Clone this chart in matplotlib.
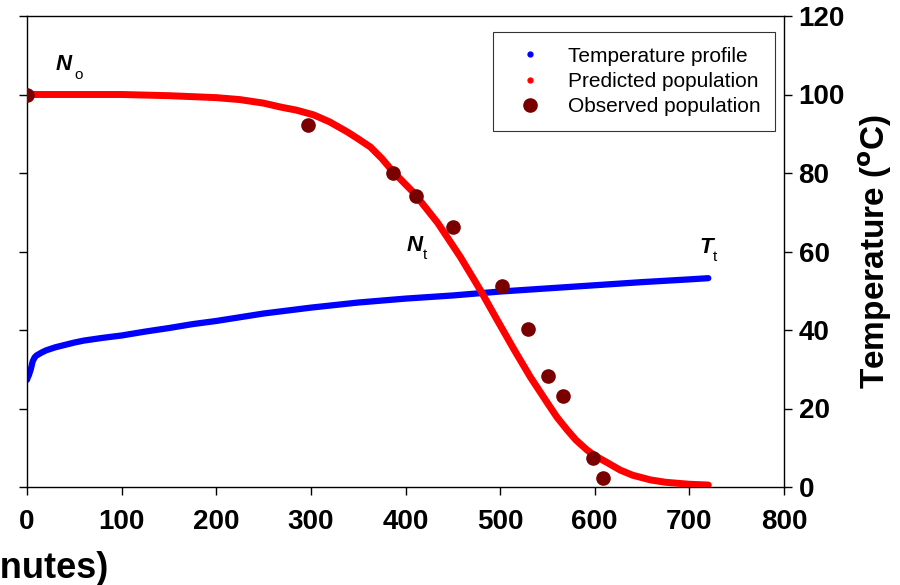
import matplotlib
matplotlib.use("Agg")
import matplotlib.pyplot as plt
from matplotlib.lines import Line2D

plt.rcParams["font.family"] = ["Liberation Sans", "DejaVu Sans"]

# ---- Data ----
time_temp = [0, 1, 2, 4, 6, 8, 10, 15, 20, 30, 40, 50, 60, 80, 100, 125, 150,
             175, 200, 250, 300, 350, 400, 450, 500, 550, 600, 650, 700, 720]
temp = [27.3, 28.0, 28.5, 30.0, 32.0, 33.0, 33.5, 34.2, 34.8, 35.6, 36.2, 36.8,
        37.3, 38.0, 38.6, 39.6, 40.5, 41.5, 42.3, 44.2, 45.7, 47.0, 48.0, 48.8,
        49.8, 50.6, 51.4, 52.2, 52.9, 53.2]

time_pred = [0, 50, 100, 150, 200, 225, 250, 268, 285, 303, 320, 339, 350, 363,
             375, 387, 409, 434, 458, 479, 497, 515, 532, 550, 560, 571, 580,
             592, 600, 614, 627, 640, 659, 675, 700, 720]
pred = [100, 100, 100, 99.7, 99.2, 98.7, 97.8, 96.8, 96.0, 94.8, 93.0, 90.4,
        88.7, 86.6, 83.7, 80.3, 74.9, 67.3, 58.6, 50.2, 42.5, 34.9, 28.0, 21.4,
        17.8, 14.5, 12.0, 9.4, 8.0, 6.1, 4.3, 3.0, 1.8, 1.2, 0.7, 0.5]

time_obs = [0, 297, 387, 411, 450, 502, 529, 551, 566, 598, 609]
obs = [100, 92.2, 80.0, 74.1, 66.2, 51.2, 40.3, 28.3, 23.2, 7.4, 2.3]

x_ticks = [0, 100, 200, 300, 400, 500, 600, 700, 800]
y_ticks = [0, 20, 40, 60, 80, 100, 120]

# ---- Figure ----
fig = plt.figure(figsize=(9, 5.85), dpi=100)
ax = fig.add_axes([27 / 900, 1 - 487 / 585, (784 - 27) / 900, (487 - 16) / 585])

ax.plot(time_temp, temp, color="blue", lw=4.5, solid_capstyle="round", zorder=2)
ax.plot(time_pred, pred, color="red", lw=5, solid_capstyle="round", zorder=3)
ax.plot(time_obs, obs, ls="none", marker="o", ms=9.5, color="#7a0000", zorder=4)

ax.set_xlim(0, 800)
ax.set_ylim(0, 120)
ax.set_xticks(x_ticks)
ax.set_yticks(y_ticks)

for sp in ax.spines.values():
    sp.set_linewidth(1.0)

ax.tick_params(axis="both", direction="out", length=6, width=1.0,
               labelsize=20)
ax.tick_params(axis="x", pad=10)
ax.tick_params(axis="y", left=True, right=True, labelleft=False,
               labelright=True, pad=4.5)
for lbl in ax.get_xticklabels() + ax.get_yticklabels():
    lbl.set_fontweight("bold")

ax.yaxis.set_label_position("right")
ax.set_ylabel(r"Temperature ($\mathbf{^{o}}$C)", fontsize=24,
              fontweight="bold", labelpad=8)

# x label is mostly off the left edge of the canvas, as in the reference
fig.text(108 / 900, 1 - 578 / 585, "Time (minutes)", ha="right",
         va="baseline", fontsize=26, fontweight="bold")

# N / T annotations
def label(x, y, main, sub, sx, sy):
    ax.text(x, y, main, fontsize=16, fontweight="bold", style="italic",
            ha="center", va="center")
    ax.text(sx, sy, sub, fontsize=11, ha="center", va="center")

label(39, 107.6, "N", "o", 55, 105.0)
label(410, 61.5, "N", "t", 421, 59.2)
label(718, 61.1, "T", "t", 727, 58.6)

handles = [
    Line2D([], [], ls="none", marker="o", ms=3.5, color="blue"),
    Line2D([], [], ls="none", marker="o", ms=3.5, color="red"),
    Line2D([], [], ls="none", marker="o", ms=9.5, color="#7a0000"),
]
names = ["Temperature profile", "Predicted population", "Observed population"]
leg = ax.legend(handles, names, loc="upper right",
                bbox_to_anchor=((775 - 27) / 757, (487 - 32) / 471),
                fontsize=15, frameon=True, fancybox=False, borderpad=0.7,
                handlelength=2.2, handletextpad=0.7, labelspacing=0.3,
                borderaxespad=0)
leg.get_frame().set_edgecolor("black")
leg.get_frame().set_linewidth(0.8)

fig.savefig("out.png", dpi=100)
